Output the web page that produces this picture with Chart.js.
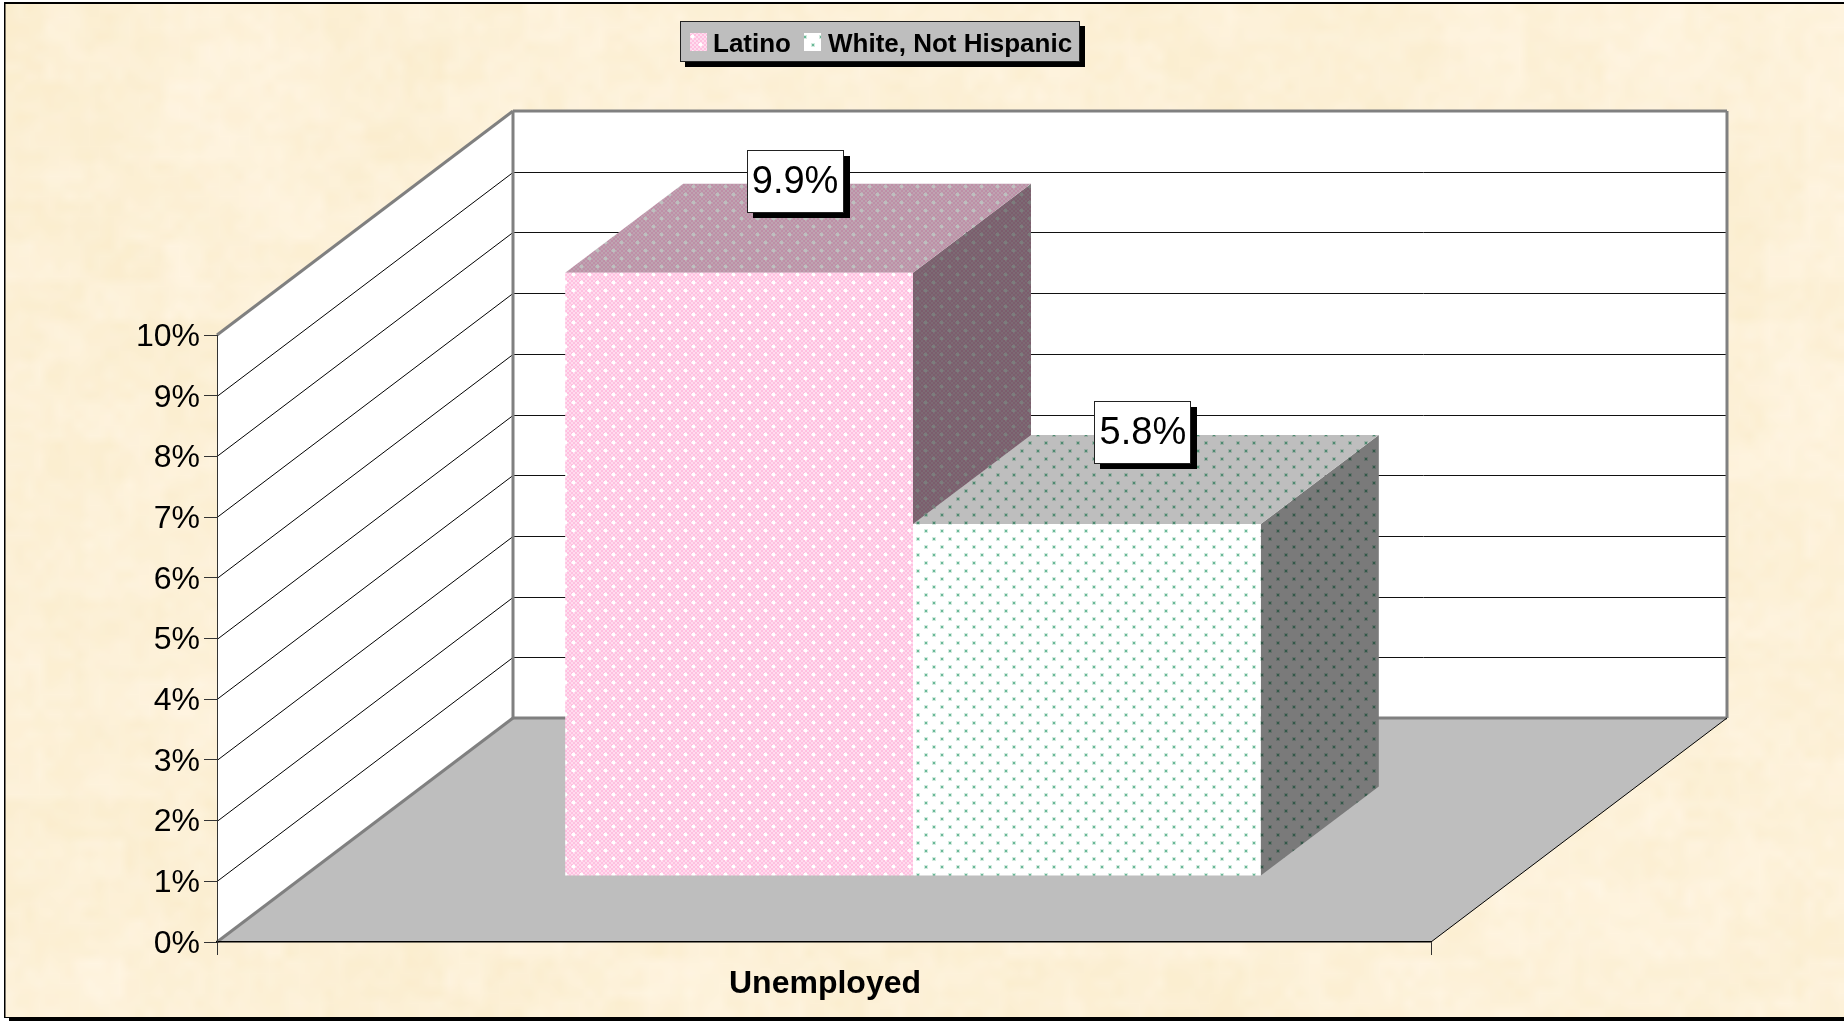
<!DOCTYPE html>
<html>
<head>
<meta charset="utf-8">
<title>Unemployed</title>
<script src="https://cdn.jsdelivr.net/npm/chart.js@4"></script>
<style>
html, body { margin: 0; padding: 0; background: #fff; }
canvas { display: block; }
</style>
</head>
<body>
<canvas id="myChart" width="1844" height="1023"></canvas>
<script>
const categories = ["Unemployed"];
const latinoValues = [9.94];
const whiteValues = [5.8];
const seriesNames = ["Latino", "White, Not Hispanic"];
const valueLabels = ["9.9%", "5.8%"];

const FONT = "'Liberation Sans', Arial, sans-serif";
// floor depth of the 3D box and of the bars
const WALL_DX = 296, WALL_DY = 224;
const BAR_DX = 118, BAR_DY = 89;
const BAR_SHIFT_X = 89, BAR_SHIFT_Y = -66;

function tile(paint, shade) {
    let c = document.createElement("canvas");
    c.width = 16;
    c.height = 16;
    let g = c.getContext("2d");
    paint(g);
    if (shade) {
        g.globalCompositeOperation = "multiply";
        g.fillStyle = shade;
        g.fillRect(0, 0, 16, 16);
    }
    return g.createPattern(c, "repeat");
}

function paintPink(g) {
    for (let y = 0; y < 16; y += 2) {
        for (let x = 0; x < 16; x += 2) {
            g.fillStyle = (x + y) % 4 == 0 ? "#ffc0e0" : "#ffdcee";
            g.fillRect(x, y, 2, 2);
        }
    }
    [[3, 3], [11, 11]].forEach(([x, y]) => {
        g.fillStyle = "#fff0f8";
        g.fillRect(x - 1, y + 1, 5, 1);
        g.fillRect(x + 1, y - 1, 1, 5);
        g.fillStyle = "#ffffff";
        g.fillRect(x, y, 3, 3);
    });
}

function paintGreen(g) {
    g.fillStyle = "#ffffff";
    g.fillRect(0, 0, 16, 16);
    [[3, 3], [11, 11]].forEach(([x, y]) => {
        g.fillStyle = "#d3ebdf";
        g.fillRect(x, y, 4, 4);
        g.fillStyle = "#69b898";
        g.fillRect(x + 1, y + 1, 2, 2);
    });
}

const pinkFront = tile(paintPink);
const pinkTop = tile(paintPink, "#bebebe");
const pinkSide = tile(paintPink, "#7c7c7c");
const greenFront = tile(paintGreen);
const greenTop = tile(paintGreen, "#bebebe");
const greenSide = tile(paintGreen, "#7a7a7a");

function hash(x, y) {
    let s = Math.sin(x * 12.9898 + y * 78.233) * 43758.5453;
    return s - Math.floor(s);
}

function drawParchment(ctx) {
    let w = 184, h = 102;
    let c = document.createElement("canvas");
    c.width = w;
    c.height = h;
    let g = c.getContext("2d");
    let img = g.createImageData(w, h);
    for (let y = 0; y < h; y++) {
        for (let x = 0; x < w; x++) {
            let n = hash(x, y) * 0.7 + hash(x >> 2, y >> 2) * 0.6 + hash(x >> 4, y >> 4) * 0.4 - 0.85;
            let i = (y * w + x) * 4;
            img.data[i] = 253 + n * 3;
            img.data[i + 1] = 241 + n * 5;
            img.data[i + 2] = 216 + n * 13;
            img.data[i + 3] = 255;
        }
    }
    g.putImageData(img, 0, 0);
    ctx.imageSmoothingEnabled = true;
    ctx.drawImage(c, 4, 2, 1840, 1016);
}

function poly(ctx, pts, fill) {
    ctx.beginPath();
    pts.forEach((p, i) => (i ? ctx.lineTo(p[0], p[1]) : ctx.moveTo(p[0], p[1])));
    ctx.closePath();
    ctx.fillStyle = fill;
    ctx.fill();
}

function line(ctx, x1, y1, x2, y2, color, width) {
    ctx.beginPath();
    ctx.moveTo(x1, y1);
    ctx.lineTo(x2, y2);
    ctx.strokeStyle = color;
    ctx.lineWidth = width;
    ctx.stroke();
}

const boxPlugin = {
    id: "box3d",
    beforeDraw(chart) {
        let ctx = chart.ctx;
        let x = chart.scales.x, y = chart.scales.y;
        let l = x.left, r = x.right, b = y.getPixelForValue(0), t = y.getPixelForValue(10);

        // tick labels sit a little lower in the reference
        y.getLabelItems().forEach((item) => (item.options.translation[1] = item.options.translation[1] + 2));
        x.getLabelItems().forEach((item) => {
            item.options.translation[0] += 1;
            item.options.translation[1] += 1;
        });

        ctx.save();
        drawParchment(ctx);

        // frame
        ctx.fillStyle = "#000";
        ctx.fillRect(4, 2, 1840, 2);
        ctx.fillRect(4, 2, 1.5, 1016);
        ctx.fillRect(4, 1017, 1840, 1);
        ctx.fillRect(9, 1018, 1835, 3);

        // walls and floor
        poly(ctx, [[l + WALL_DX, t - WALL_DY], [r + WALL_DX, t - WALL_DY], [r + WALL_DX, b - WALL_DY], [l + WALL_DX, b - WALL_DY]], "#fff");
        poly(ctx, [[l, t], [l + WALL_DX, t - WALL_DY], [l + WALL_DX, b - WALL_DY], [l, b]], "#fff");
        poly(ctx, [[l, b], [r, b], [r + WALL_DX, b - WALL_DY], [l + WALL_DX, b - WALL_DY]], "#bebebe");

        for (let v = 1; v < 10; v++) {
            let py = Math.round(y.getPixelForValue(v)) + 0.5;
            line(ctx, l, py, l + WALL_DX, py - WALL_DY, "#000", 1);
            line(ctx, l + WALL_DX, py - WALL_DY, r + WALL_DX, py - WALL_DY, "#111", 1);
        }

        // wall outline
        line(ctx, l, t, l + WALL_DX, t - WALL_DY, "#808080", 3);
        line(ctx, l + WALL_DX, t - WALL_DY, r + WALL_DX, t - WALL_DY, "#808080", 3);
        line(ctx, l + WALL_DX, t - WALL_DY, l + WALL_DX, b - WALL_DY, "#808080", 3);
        line(ctx, r + WALL_DX, t - WALL_DY, r + WALL_DX, b - WALL_DY, "#808080", 3);
        line(ctx, l + WALL_DX, b - WALL_DY, r + WALL_DX, b - WALL_DY, "#808080", 3);
        line(ctx, l, b, l + WALL_DX, b - WALL_DY, "#808080", 3);
        line(ctx, r, b, r + WALL_DX, b - WALL_DY, "#000", 1);
        ctx.restore();
    },
    beforeDatasetsDraw(chart) {
        let ctx = chart.ctx;
        ctx.save();
        ctx.translate(BAR_SHIFT_X, BAR_SHIFT_Y);
        [[pinkTop, pinkSide], [greenTop, greenSide]].forEach(([top, side], i) => {
            let bar = chart.getDatasetMeta(i).data[0];
            let x1 = bar.x - bar.width / 2, x2 = bar.x + bar.width / 2;
            poly(ctx, [[x2, bar.y], [x2 + BAR_DX, bar.y - BAR_DY], [x2 + BAR_DX, bar.base - BAR_DY], [x2, bar.base]], side);
            poly(ctx, [[x1, bar.y], [x1 + BAR_DX, bar.y - BAR_DY], [x2 + BAR_DX, bar.y - BAR_DY], [x2, bar.y]], top);
        });
        // the bars themselves are drawn by Chart.js inside this shift
    },
    afterDatasetsDraw(chart) {
        let ctx = chart.ctx;
        ctx.restore();
        ctx.save();
        ctx.font = "38px " + FONT;
        ctx.textAlign = "center";
        ctx.textBaseline = "middle";
        valueLabels.forEach((txt, i) => {
            let bar = chart.getDatasetMeta(i).data[0];
            let cx = bar.x + BAR_SHIFT_X + 56;
            let cy = bar.y + BAR_SHIFT_Y - BAR_DY - 3;
            let bx = Math.round(cx - 48.5), by = Math.round(cy - 31);
            ctx.fillStyle = "#000";
            ctx.fillRect(bx + 6, by + 6, 97, 62);
            ctx.fillStyle = "#fff";
            ctx.fillRect(bx, by, 97, 62);
            ctx.strokeStyle = "#222";
            ctx.lineWidth = 1;
            ctx.strokeRect(bx + 0.5, by + 0.5, 96, 62);
            ctx.fillStyle = "#000";
            ctx.fillText(txt, cx, cy + 2);
        });
        ctx.restore();
    },
    afterDraw(chart) {
        let ctx = chart.ctx;
        ctx.save();
        ctx.fillStyle = "#000";
        ctx.fillRect(685, 26, 400, 41);
        ctx.fillStyle = "#bebebe";
        ctx.fillRect(680, 21, 400, 41);
        ctx.strokeStyle = "#222";
        ctx.lineWidth = 1;
        ctx.strokeRect(680.5, 21.5, 399, 40);
        ctx.fillStyle = pinkFront;
        ctx.fillRect(690, 33, 17, 18);
        ctx.fillStyle = greenFront;
        ctx.fillRect(804, 33, 17, 18);
        ctx.fillStyle = "#000";
        ctx.font = "bold 26px " + FONT;
        ctx.textBaseline = "alphabetic";
        ctx.fillText(seriesNames[0], 713, 52);
        ctx.fillText(seriesNames[1], 828, 52);
        ctx.restore();
    },
};

let myChart = document.getElementById("myChart").getContext("2d");

let massChart = new Chart(myChart, {
    type: "bar",
    data: {
        labels: categories,
        datasets: [
            {
                label: seriesNames[0],
                data: latinoValues,
                backgroundColor: pinkFront,
                borderWidth: 0,
            },
            {
                label: seriesNames[1],
                data: whiteValues,
                backgroundColor: greenFront,
                borderWidth: 0,
            },
        ],
    },
    plugins: [boxPlugin],
    options: {
        responsive: false,
        animation: false,
        events: [],
        categoryPercentage: 0.573,
        barPercentage: 1,
        layout: {
            padding: { left: 0, right: 413, top: 335, bottom: 0 },
        },
        plugins: {
            legend: { display: false },
            tooltip: { enabled: false },
            title: { display: false },
        },
        scales: {
            x: {
                offset: true,
                afterFit(scale) {
                    scale.height = 81;
                },
                grid: {
                    offset: true,
                    drawOnChartArea: false,
                    tickLength: 13,
                    color: "#333",
                },
                border: { color: "#000", width: 1.5 },
                ticks: {
                    padding: 9,
                    color: "#000",
                    maxRotation: 0,
                    font: { size: 32, weight: "bold", family: FONT },
                },
            },
            y: {
                min: 0,
                max: 10,
                afterFit(scale) {
                    scale.width = 217;
                },
                grid: {
                    drawOnChartArea: false,
                    tickLength: 13,
                    color: "#333",
                },
                border: { color: "#333", width: 1 },
                ticks: {
                    stepSize: 1,
                    padding: 4,
                    color: "#000",
                    font: { size: 32, family: FONT },
                    callback: (v) => v + "%",
                },
            },
        },
    },
});
</script>
</body>
</html>
